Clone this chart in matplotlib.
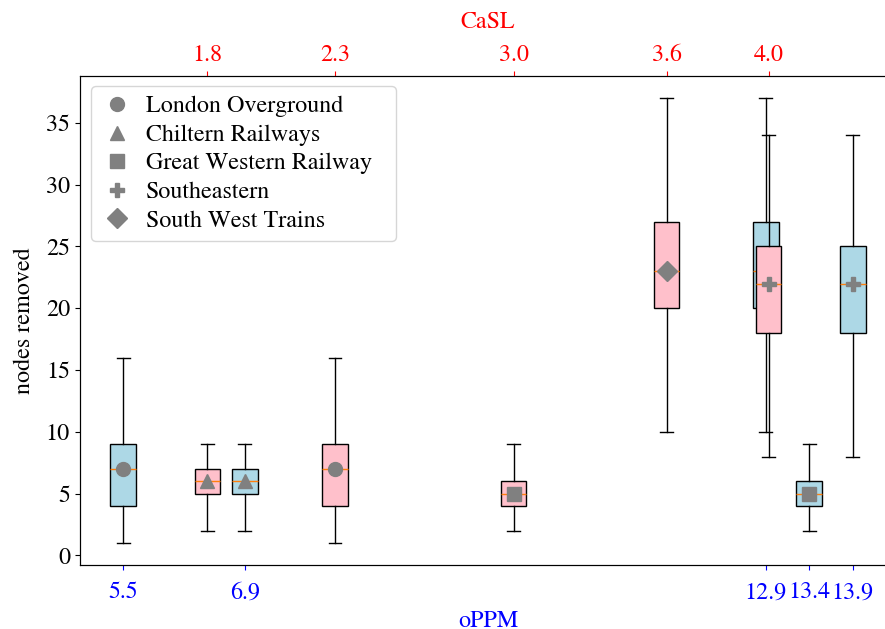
import matplotlib
matplotlib.use('Agg')
import matplotlib.pyplot as plt

plt.rcParams['font.family'] = ['STIXGeneral', 'DejaVu Serif']
plt.rcParams['font.size'] = 17.3

# Operadoras e valores
operadoras = ['London Overground', 'Chiltern Railways', 'Great Western Railway',
              'Southeastern', 'South West Trains']
marcadores = ['o', '^', 's', 'P', 'D']
oppm = [5.5, 6.9, 13.4, 13.9, 12.9]
casl = [2.3, 1.8, 3.0, 4.0, 3.6]

# estatisticas das caixas (iguais para oPPM e CaSL)
whis_lo = [1, 2, 2, 8, 10]
q1 = [4, 5, 4, 18, 20]
mediana = [7, 6, 5, 22, 23]
q3 = [9, 7, 6, 25, 27]
whis_hi = [16, 9, 9, 34, 37]


def stats():
    out = []
    for i in range(len(operadoras)):
        out.append({'whislo': whis_lo[i], 'q1': q1[i], 'med': mediana[i],
                    'q3': q3[i], 'whishi': whis_hi[i], 'fliers': []})
    return out


fig = plt.figure(figsize=(8.85, 6.29), dpi=100)
ax = fig.add_axes([0.0901, 0.1013, 0.9226, 0.7779])

ax.bxp(stats(), positions=oppm, widths=0.3, patch_artist=True,
       boxprops=dict(facecolor='lightblue', edgecolor='black'),
       medianprops=dict(color='C1', linewidth=1))
for i in range(len(operadoras)):
    ax.plot(oppm[i], mediana[i], marker=marcadores[i], color='grey',
            linestyle='none', markersize=10, zorder=3)

ax.set_xlim(5.0, 14.4)
ax.set_ylim(-0.8, 38.8)
ax.set_xticks(sorted(oppm))
ax.set_xticklabels([str(v) for v in sorted(oppm)])
ax.tick_params(axis='x', colors='blue', pad=8.5)
ax.set_xlabel('oPPM', color='blue', labelpad=5)
ax.set_ylabel('nodes removed', labelpad=7.5)
ax.set_yticks([0, 5, 10, 15, 20, 25, 30, 35])

ax2 = ax.twiny()
ax2.bxp(stats(), positions=casl, widths=0.1, patch_artist=True,
        boxprops=dict(facecolor='pink', edgecolor='black'),
        medianprops=dict(color='C1', linewidth=1))
for i in range(len(operadoras)):
    ax2.plot(casl[i], mediana[i], marker=marcadores[i], color='grey',
             linestyle='none', markersize=10, zorder=3, label=operadoras[i])

ax2.set_xlim(1.3, 4.5)
ax2.set_xticks(sorted(casl))
ax2.set_xticklabels([str(v) for v in sorted(casl)])
ax2.tick_params(axis='x', colors='red')
ax2.set_xlabel('CaSL', color='red', labelpad=12)
ax2.set_ylim(-0.8, 38.8)

ax2.legend(loc='upper left', bbox_to_anchor=(0.0135, 0.5, 0.374, 0.4796),
           mode='expand', borderaxespad=0, handlelength=1.4,
           handletextpad=0.5, labelspacing=0.28)

fig.savefig('out.png', dpi=100)
